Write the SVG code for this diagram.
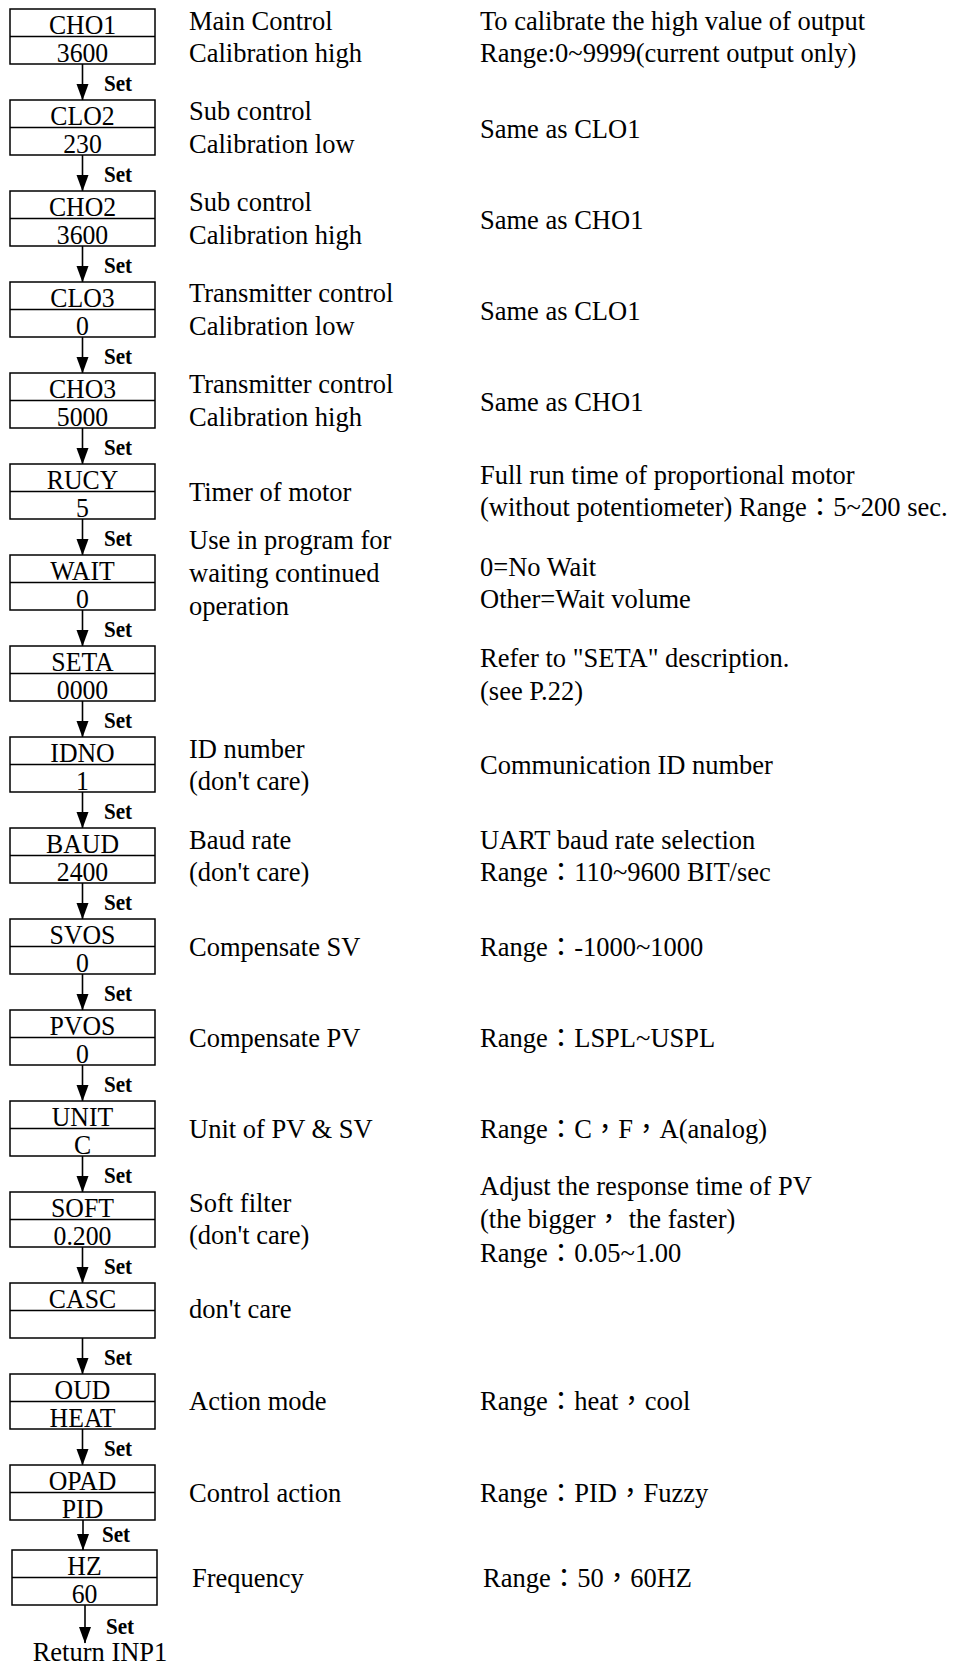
<svg xmlns="http://www.w3.org/2000/svg" width="957" height="1665" viewBox="0 0 957 1665">
<style>
text{font-family:"Liberation Serif","Noto Sans CJK TC",serif;fill:#000}
.bx{fill:#fff;stroke:#000;stroke-width:1.5}
.dv{stroke:#000;stroke-width:1.5}
.bt{font-size:28px;text-anchor:middle}
.d{font-size:26.5px}
.set{font-size:24px;font-weight:bold}
.cn{stroke:#000;stroke-width:1.6;fill:none;marker-end:url(#ah)}
</style>
<defs>
<marker id="ah" markerUnits="userSpaceOnUse" markerWidth="17" markerHeight="13" refX="16" refY="6.5" orient="auto" viewBox="0 0 17 13">
<path d="M0,0.5 L16.5,6.5 L0,12.5 Z" fill="#000"/>
</marker>
</defs>
<rect width="957" height="1665" fill="#fff"/>
<g id="connectors">
<line class="cn" x1="82.5" y1="64" x2="82.5" y2="100"/>
<line class="cn" x1="82.5" y1="155" x2="82.5" y2="191"/>
<line class="cn" x1="82.5" y1="246" x2="82.5" y2="282"/>
<line class="cn" x1="82.5" y1="337" x2="82.5" y2="373"/>
<line class="cn" x1="82.5" y1="428" x2="82.5" y2="464"/>
<line class="cn" x1="82.5" y1="519" x2="82.5" y2="555"/>
<line class="cn" x1="82.5" y1="610" x2="82.5" y2="646"/>
<line class="cn" x1="82.5" y1="701" x2="82.5" y2="737"/>
<line class="cn" x1="82.5" y1="792" x2="82.5" y2="828"/>
<line class="cn" x1="82.5" y1="883" x2="82.5" y2="919"/>
<line class="cn" x1="82.5" y1="974" x2="82.5" y2="1010"/>
<line class="cn" x1="82.5" y1="1065" x2="82.5" y2="1101"/>
<line class="cn" x1="82.5" y1="1156" x2="82.5" y2="1192"/>
<line class="cn" x1="82.5" y1="1247" x2="82.5" y2="1283"/>
<line class="cn" x1="82.5" y1="1338" x2="82.5" y2="1374"/>
<line class="cn" x1="82.5" y1="1429" x2="82.5" y2="1465"/>
<line class="cn" x1="83" y1="1520" x2="83" y2="1550"/>
<line class="cn" x1="85" y1="1605" x2="85" y2="1643"/>
<text class="set" transform="translate(104 91) scale(0.88 1)">Set</text>
<text class="set" transform="translate(104 182) scale(0.88 1)">Set</text>
<text class="set" transform="translate(104 273) scale(0.88 1)">Set</text>
<text class="set" transform="translate(104 364) scale(0.88 1)">Set</text>
<text class="set" transform="translate(104 455) scale(0.88 1)">Set</text>
<text class="set" transform="translate(104 546) scale(0.88 1)">Set</text>
<text class="set" transform="translate(104 637) scale(0.88 1)">Set</text>
<text class="set" transform="translate(104 728) scale(0.88 1)">Set</text>
<text class="set" transform="translate(104 819) scale(0.88 1)">Set</text>
<text class="set" transform="translate(104 910) scale(0.88 1)">Set</text>
<text class="set" transform="translate(104 1001) scale(0.88 1)">Set</text>
<text class="set" transform="translate(104 1092) scale(0.88 1)">Set</text>
<text class="set" transform="translate(104 1183) scale(0.88 1)">Set</text>
<text class="set" transform="translate(104 1274) scale(0.88 1)">Set</text>
<text class="set" transform="translate(104 1365) scale(0.88 1)">Set</text>
<text class="set" transform="translate(104 1456) scale(0.88 1)">Set</text>
<text class="set" transform="translate(102 1542) scale(0.88 1)">Set</text>
<text class="set" transform="translate(106 1634) scale(0.88 1)">Set</text>
</g>
<g id="n-cho1">
<rect class="bx" x="10" y="9" width="145" height="55"/><line class="dv" x1="10" y1="36.5" x2="155" y2="36.5"/>
<text class="bt" transform="translate(82.5 34) scale(0.92 1)">CHO1</text><text class="bt" transform="translate(82.5 62) scale(0.92 1)">3600</text>
<text class="d" x="189" y="30">Main Control</text><text class="d" x="189" y="62">Calibration high</text>
<text class="d" x="480" y="30">To calibrate the high value of output</text><text class="d" x="480" y="62">Range:0~9999(current output only)</text>
</g>
<g id="n-clo2">
<rect class="bx" x="10" y="100" width="145" height="55"/><line class="dv" x1="10" y1="127.5" x2="155" y2="127.5"/>
<text class="bt" transform="translate(82.5 125) scale(0.92 1)">CLO2</text><text class="bt" transform="translate(82.5 153) scale(0.92 1)">230</text>
<text class="d" x="189" y="120">Sub control</text><text class="d" x="189" y="153">Calibration low</text>
<text class="d" x="480" y="138">Same as CLO1</text>
</g>
<g id="n-cho2">
<rect class="bx" x="10" y="191" width="145" height="55"/><line class="dv" x1="10" y1="218.5" x2="155" y2="218.5"/>
<text class="bt" transform="translate(82.5 216) scale(0.92 1)">CHO2</text><text class="bt" transform="translate(82.5 244) scale(0.92 1)">3600</text>
<text class="d" x="189" y="211">Sub control</text><text class="d" x="189" y="244">Calibration high</text>
<text class="d" x="480" y="229">Same as CHO1</text>
</g>
<g id="n-clo3">
<rect class="bx" x="10" y="282" width="145" height="55"/><line class="dv" x1="10" y1="309.5" x2="155" y2="309.5"/>
<text class="bt" transform="translate(82.5 307) scale(0.92 1)">CLO3</text><text class="bt" transform="translate(82.5 335) scale(0.92 1)">0</text>
<text class="d" x="189" y="302">Transmitter control</text><text class="d" x="189" y="335">Calibration low</text>
<text class="d" x="480" y="320">Same as CLO1</text>
</g>
<g id="n-cho3">
<rect class="bx" x="10" y="373" width="145" height="55"/><line class="dv" x1="10" y1="400.5" x2="155" y2="400.5"/>
<text class="bt" transform="translate(82.5 398) scale(0.92 1)">CHO3</text><text class="bt" transform="translate(82.5 426) scale(0.92 1)">5000</text>
<text class="d" x="189" y="393">Transmitter control</text><text class="d" x="189" y="426">Calibration high</text>
<text class="d" x="480" y="411">Same as CHO1</text>
</g>
<g id="n-rucy">
<rect class="bx" x="10" y="464" width="145" height="55"/><line class="dv" x1="10" y1="491.5" x2="155" y2="491.5"/>
<text class="bt" transform="translate(82.5 489) scale(0.92 1)">RUCY</text><text class="bt" transform="translate(82.5 517) scale(0.92 1)">5</text>
<text class="d" x="189" y="501">Timer of motor</text>
<text class="d" x="480" y="484">Full run time of proportional motor</text><text class="d" x="480" y="516">(without potentiometer) Range：5~200 sec.</text>
</g>
<g id="n-wait">
<rect class="bx" x="10" y="555" width="145" height="55"/><line class="dv" x1="10" y1="582.5" x2="155" y2="582.5"/>
<text class="bt" transform="translate(82.5 580) scale(0.92 1)">WAIT</text><text class="bt" transform="translate(82.5 608) scale(0.92 1)">0</text>
<text class="d" x="189" y="549">Use in program for</text><text class="d" x="189" y="582">waiting continued</text><text class="d" x="189" y="615">operation</text>
<text class="d" x="480" y="576">0=No Wait</text><text class="d" x="480" y="608">Other=Wait volume</text>
</g>
<g id="n-seta">
<rect class="bx" x="10" y="646" width="145" height="55"/><line class="dv" x1="10" y1="673.5" x2="155" y2="673.5"/>
<text class="bt" transform="translate(82.5 671) scale(0.92 1)">SETA</text><text class="bt" transform="translate(82.5 699) scale(0.92 1)">0000</text>
<text class="d" x="480" y="667">Refer to "SETA" description.</text><text class="d" x="480" y="700">(see P.22)</text>
</g>
<g id="n-idno">
<rect class="bx" x="10" y="737" width="145" height="55"/><line class="dv" x1="10" y1="764.5" x2="155" y2="764.5"/>
<text class="bt" transform="translate(82.5 762) scale(0.92 1)">IDNO</text><text class="bt" transform="translate(82.5 790) scale(0.92 1)">1</text>
<text class="d" x="189" y="758">ID number</text><text class="d" x="189" y="790">(don't care)</text>
<text class="d" x="480" y="774">Communication ID number</text>
</g>
<g id="n-baud">
<rect class="bx" x="10" y="828" width="145" height="55"/><line class="dv" x1="10" y1="855.5" x2="155" y2="855.5"/>
<text class="bt" transform="translate(82.5 853) scale(0.92 1)">BAUD</text><text class="bt" transform="translate(82.5 881) scale(0.92 1)">2400</text>
<text class="d" x="189" y="849">Baud rate</text><text class="d" x="189" y="881">(don't care)</text>
<text class="d" x="480" y="849">UART baud rate selection</text><text class="d" x="480" y="881">Range：110~9600 BIT/sec</text>
</g>
<g id="n-svos">
<rect class="bx" x="10" y="919" width="145" height="55"/><line class="dv" x1="10" y1="946.5" x2="155" y2="946.5"/>
<text class="bt" transform="translate(82.5 944) scale(0.92 1)">SVOS</text><text class="bt" transform="translate(82.5 972) scale(0.92 1)">0</text>
<text class="d" x="189" y="956">Compensate SV</text>
<text class="d" x="480" y="956">Range：-1000~1000</text>
</g>
<g id="n-pvos">
<rect class="bx" x="10" y="1010" width="145" height="55"/><line class="dv" x1="10" y1="1037.5" x2="155" y2="1037.5"/>
<text class="bt" transform="translate(82.5 1035) scale(0.92 1)">PVOS</text><text class="bt" transform="translate(82.5 1063) scale(0.92 1)">0</text>
<text class="d" x="189" y="1047">Compensate PV</text>
<text class="d" x="480" y="1047">Range：LSPL~USPL</text>
</g>
<g id="n-unit">
<rect class="bx" x="10" y="1101" width="145" height="55"/><line class="dv" x1="10" y1="1128.5" x2="155" y2="1128.5"/>
<text class="bt" transform="translate(82.5 1126) scale(0.92 1)">UNIT</text><text class="bt" transform="translate(82.5 1154) scale(0.92 1)">C</text>
<text class="d" x="189" y="1138">Unit of PV &amp; SV</text>
<text class="d" x="480" y="1138">Range：C，F，A(analog)</text>
</g>
<g id="n-soft">
<rect class="bx" x="10" y="1192" width="145" height="55"/><line class="dv" x1="10" y1="1219.5" x2="155" y2="1219.5"/>
<text class="bt" transform="translate(82.5 1217) scale(0.92 1)">SOFT</text><text class="bt" transform="translate(82.5 1245) scale(0.92 1)">0.200</text>
<text class="d" x="189" y="1212">Soft filter</text><text class="d" x="189" y="1244">(don't care)</text>
<text class="d" x="480" y="1195">Adjust the response time of PV</text><text class="d" x="480" y="1228">(the bigger， the faster)</text><text class="d" x="480" y="1262">Range：0.05~1.00</text>
</g>
<g id="n-casc">
<rect class="bx" x="10" y="1283" width="145" height="55"/><line class="dv" x1="10" y1="1310.5" x2="155" y2="1310.5"/>
<text class="bt" transform="translate(82.5 1308) scale(0.92 1)">CASC</text>
<text class="d" x="189" y="1318">don't care</text>
</g>
<g id="n-oud">
<rect class="bx" x="10" y="1374" width="145" height="55"/><line class="dv" x1="10" y1="1401.5" x2="155" y2="1401.5"/>
<text class="bt" transform="translate(82.5 1399) scale(0.92 1)">OUD</text><text class="bt" transform="translate(82.5 1427) scale(0.92 1)">HEAT</text>
<text class="d" x="189" y="1410">Action mode</text>
<text class="d" x="480" y="1410">Range：heat，cool</text>
</g>
<g id="n-opad">
<rect class="bx" x="10" y="1465" width="145" height="55"/><line class="dv" x1="10" y1="1492.5" x2="155" y2="1492.5"/>
<text class="bt" transform="translate(82.5 1490) scale(0.92 1)">OPAD</text><text class="bt" transform="translate(82.5 1518) scale(0.92 1)">PID</text>
<text class="d" x="189" y="1502">Control action</text>
<text class="d" x="480" y="1502">Range：PID，Fuzzy</text>
</g>
<g id="n-hz">
<rect class="bx" x="12" y="1550" width="145" height="55"/><line class="dv" x1="12" y1="1577.5" x2="157" y2="1577.5"/>
<text class="bt" transform="translate(84.5 1575) scale(0.92 1)">HZ</text><text class="bt" transform="translate(84.5 1603) scale(0.92 1)">60</text>
<text class="d" x="192" y="1587">Frequency</text>
<text class="d" x="483" y="1587">Range：50，60HZ</text>
</g>
<g id="n-return">
<text class="d" x="100" y="1661" text-anchor="middle" font-size="28">Return INP1</text>
</g>
</svg>
